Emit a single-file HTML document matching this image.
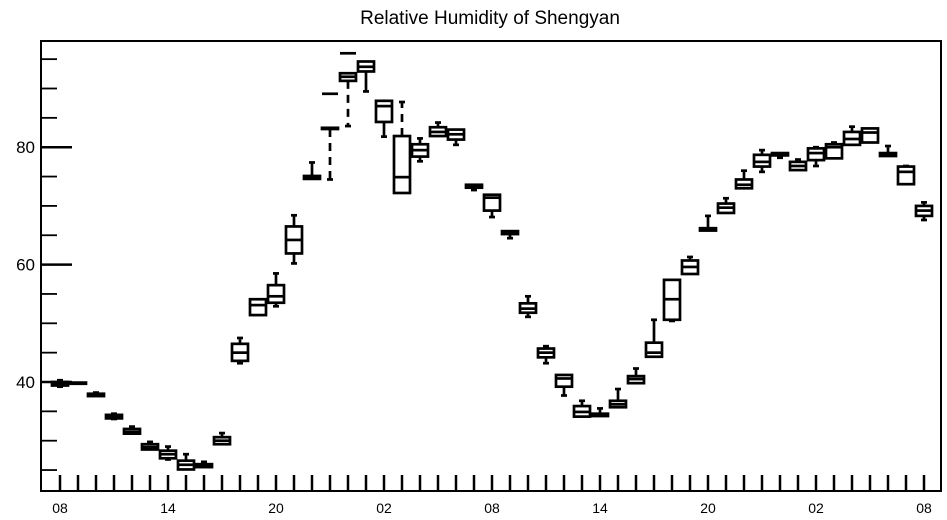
<!DOCTYPE html>
<html><head><meta charset="utf-8"><style>
html,body{margin:0;padding:0;background:#fff;}
svg{display:block;font-family:"Liberation Sans",sans-serif;}
</style></head><body>
<svg id="chart" width="947" height="520" viewBox="0 0 947 520">
<text x="490" y="24" text-anchor="middle" font-size="19">Relative Humidity of Shengyan</text>
<g id="axes"></g>
<g id="boxes"></g>
<rect x="41" y="41" width="900" height="450" fill="none" stroke="#000" stroke-width="2"/>
</svg>
<script>
const whiskerLow=[39.2,39.8,37.6,33.7,31.2,28.5,26.8,25.1,25.5,29.4,43.2,51.5,52.9,60.2,74.6,74.5,83.6,89.5,81.8,72.2,77.6,81.9,80.4,72.7,68.1,64.5,51.1,43.2,37.7,34.1,34.2,35.7,39.8,44.3,50.4,58.4,65.8,68.8,73.0,75.8,78.2,76.1,76.8,78.1,80.4,80.8,78.5,73.7,67.6];
const q1=[39.4,39.7,37.6,33.8,31.2,28.5,27.0,25.1,25.5,29.4,43.6,51.4,53.5,61.9,74.6,83.1,91.3,92.9,84.3,72.2,78.4,81.9,81.3,73.1,69.2,65.2,51.8,44.2,39.2,34.1,34.2,35.7,39.8,44.3,50.6,58.4,65.8,68.8,73.0,76.7,78.6,76.1,77.8,78.1,80.4,80.8,78.5,73.7,68.3];
const median=[39.8,39.8,37.8,34.1,31.5,28.9,27.7,25.9,25.7,30.0,45.0,53.1,54.6,64.2,74.8,83.3,92.0,93.7,87.0,74.9,79.5,82.6,82.2,73.4,71.4,65.5,52.5,45.0,40.6,34.9,34.4,36.2,40.5,45.0,54.1,59.6,66.0,69.7,73.6,77.5,78.8,76.8,79.0,80.0,81.4,82.5,78.8,75.8,69.2];
const q3=[40.0,39.9,38.0,34.4,32.0,29.4,28.3,26.6,26.0,30.6,46.5,54.1,56.5,66.5,75.1,83.3,92.6,94.6,87.9,81.9,80.5,83.4,83.0,73.6,71.9,65.7,53.4,45.7,41.2,35.9,34.6,36.8,41.0,46.7,57.4,60.7,66.2,70.4,74.5,78.7,79.0,77.5,79.8,80.5,82.6,83.2,79.0,76.7,70.0];
const whiskerHigh=[40.3,39.9,38.2,34.6,32.4,29.8,29.0,27.7,26.4,31.3,47.5,54.1,58.5,68.4,77.4,83.3,92.6,94.6,87.9,87.7,81.5,84.2,83.0,73.6,71.9,65.7,54.6,46.1,41.2,36.8,35.5,38.8,42.3,50.6,57.0,61.3,68.3,71.3,76.0,79.5,79.0,77.9,80.0,80.8,83.5,83.2,80.2,76.8,70.6];
const extraMark=[null,null,null,null,null,null,null,null,null,null,null,null,null,null,null,89.1,96.0,null,null,null,null,null,null,null,null,null,null,null,null,null,null,null,null,null,null,null,null,null,null,null,null,null,null,null,null,null,null,null,null];
const dashedWhisker=[15,16,19];
const yMajorTicks=[40,60,80];
const yMinorTicks=[25,30,35,45,50,55,65,70,75,85,90,95];
const xTickLabels=["08","14","20","02","08","14","20","02","08"];

const NS="http://www.w3.org/2000/svg";
const yS=v=>382-(v-40)*5.87;
const xS=i=>60+18*i;
function mk(tag,attrs,parent){const e=document.createElementNS(NS,tag);for(const k in attrs)e.setAttribute(k,attrs[k]);parent.appendChild(e);return e;}
const axes=document.getElementById('axes');
const boxes=document.getElementById('boxes');
yMajorTicks.forEach(v=>{
  const t=mk('line',{x1:41,x2:72,y1:yS(v),y2:yS(v),stroke:'#000','stroke-width':2.5},axes);
  
  
  const l=mk('text',{x:35,y:yS(v)+6,'text-anchor':'end','font-size':17},axes);
  l.textContent=v;
  
  
});
yMinorTicks.forEach(v=>{
  const t=mk('line',{x1:41,x2:57,y1:yS(v),y2:yS(v),stroke:'#000','stroke-width':1.8},axes);
  
  
});
for(let i=0;i<median.length;i++){
  const t=mk('line',{x1:xS(i),x2:xS(i),y1:475,y2:491,stroke:'#000','stroke-width':2.5},axes);
  
  
}
xTickLabels.forEach((s,k)=>{
  const l=mk('text',{x:xS(k*6),y:513,'text-anchor':'middle','font-size':14},axes);
  l.textContent=s;
  
  
});
const hw=8,cw=3;
for(let i=0;i<median.length;i++){
  const g=mk('g',{stroke:'#000','stroke-width':2.7,fill:'#fff'},boxes);
  
  
  const x=xS(i);
  const dash=dashedWhisker.includes(i)?{'stroke-dasharray':'8,6'}:{};
  if(whiskerLow[i]<q1[i]){
    mk('line',Object.assign({x1:x,x2:x,y1:yS(q1[i]),y2:yS(whiskerLow[i])},dash),g);
    mk('line',{x1:x-cw,x2:x+cw,y1:yS(whiskerLow[i]),y2:yS(whiskerLow[i])},g);
  }
  if(whiskerHigh[i]>q3[i]){
    mk('line',Object.assign({x1:x,x2:x,y1:yS(q3[i]),y2:yS(whiskerHigh[i])},dash),g);
    mk('line',{x1:x-cw,x2:x+cw,y1:yS(whiskerHigh[i]),y2:yS(whiskerHigh[i])},g);
  }
  const top=yS(q3[i]),bot=yS(q1[i]);
  mk('rect',{x:x-hw,y:top,width:2*hw,height:Math.max(bot-top,0.5)},g);
  mk('line',{x1:x-hw,x2:x+hw,y1:yS(median[i]),y2:yS(median[i])},g);
  if(extraMark[i]!==null){
    mk('line',{x1:x-hw,x2:x+hw,y1:yS(extraMark[i]),y2:yS(extraMark[i])},g);
  }
}
</script>
</body></html>
